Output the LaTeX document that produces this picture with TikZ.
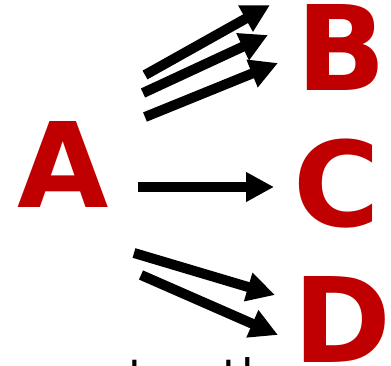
\documentclass[tikz,border=0pt]{standalone}
\usepackage{fontspec}
\setmainfont{DejaVu Sans}
\usetikzlibrary{arrows.meta}
\definecolor{letterred}{HTML}{C00000}
\begin{document}
\begin{tikzpicture}[x=1pt,y=-1pt,
  letter/.style={inner sep=0pt, anchor=base, text=letterred, font=\fontsize{118}{118}\selectfont\bfseries},
  fat/.style={line width=10pt, -{Triangle[length=28pt,width=28pt]}},
  caption/.style={inner sep=0pt, anchor=base west, font=\fontsize{46}{46}\selectfont}]
\useasboundingbox (0,0) rectangle (391,366);
\node[letter] (A) at (63.5,208) {A};
\node[letter] (B) at (341,91) {B};
\node[letter] (C) at (337,227) {C};
\node[letter] (D) at (342,362.5) {D};
\node[caption] (cap) at (72,392) {eat or the};
\coordinate (b1s) at (145,75);  \coordinate (b1e) at (270,5);
\coordinate (b2s) at (143,93);  \coordinate (b2e) at (268,35);
\coordinate (b3s) at (145,117); \coordinate (b3e) at (278,63);
\coordinate (cs) at (138,187);  \coordinate (ce) at (274,187);
\coordinate (d1s) at (134,253); \coordinate (d1e) at (275,295);
\coordinate (d2s) at (141,275); \coordinate (d2e) at (278,335);
\draw[fat] (b1s) -- (b1e);
\draw[fat] (b2s) -- (b2e);
\draw[fat] (b3s) -- (b3e);
\draw[fat] (cs) -- (ce);
\draw[fat] (d1s) -- (d1e);
\draw[fat] (d2s) -- (d2e);
\end{tikzpicture}
\end{document}
